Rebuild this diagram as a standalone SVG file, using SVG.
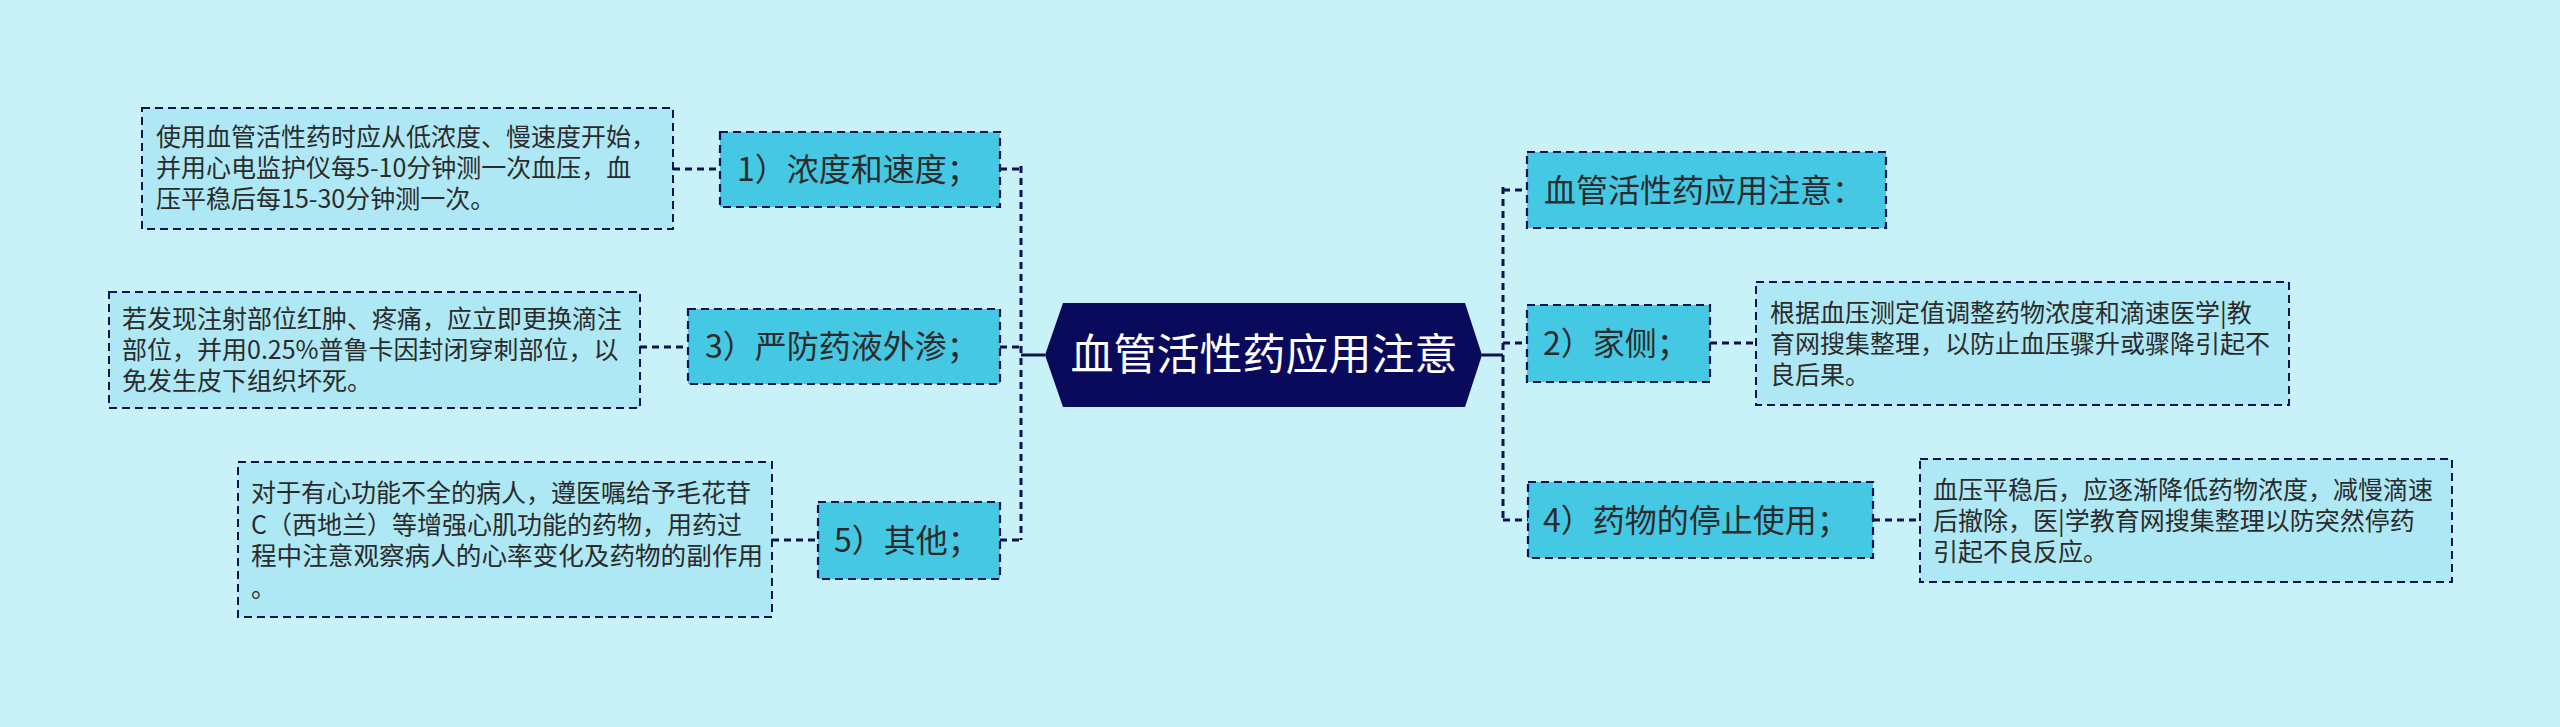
<svg xmlns="http://www.w3.org/2000/svg" width="2560" height="727" viewBox="0 0 2560 727">
<style>
.bg{fill:#c9f1f8}
.branch{fill:#45c8e3;stroke:#0e1250;stroke-width:2.2;stroke-dasharray:8 5}
.leaf{fill:#aee8f4;stroke:#0e1250;stroke-width:2;stroke-dasharray:8 5}
.bt{font-family:"Noto Sans CJK SC","Noto Sans",sans-serif;font-size:32px;fill:#2b2b2b}
.lt{font-family:"Noto Sans CJK SC","Noto Sans",sans-serif;font-size:25px;fill:#2b2b2b}
.ct{font-family:"Noto Sans CJK SC","Noto Sans",sans-serif;font-size:43px;fill:#ffffff}
.con{fill:none;stroke:#0e1250;stroke-width:3;stroke-dasharray:7 5}
.solid{fill:none;stroke:#0e1250;stroke-width:3}
</style>
<rect class="bg" x="0" y="0" width="2560" height="727"/>
<g id="connectors">
<path class="con" d="M1021 166 V540"/>
<path class="solid" d="M1045 355 H1021"/>
<path class="con" d="M1000 169 H1021"/>
<path class="con" d="M1000 347 H1021"/>
<path class="con" d="M1000 540 H1021"/>
<path class="con" d="M673 169 H720"/>
<path class="con" d="M640 347 H688"/>
<path class="con" d="M772 540 H818"/>
<path class="con" d="M1503 187 V523"/>
<path class="solid" d="M1482 355 H1503"/>
<path class="con" d="M1503 190 H1527"/>
<path class="con" d="M1503 343 H1527"/>
<path class="con" d="M1503 520 H1528"/>
<path class="con" d="M1710 343 H1756"/>
<path class="con" d="M1873 520 H1920"/>
</g>
<g id="center">
<polygon points="1045,355 1063,303 1465,303 1482,355 1465,407 1063,407" fill="#0a0a5c"/>
<text class="ct" x="1264" y="370" text-anchor="middle">血管活性药应用注意</text>
</g>
<g id="b1">
<rect class="branch" x="720" y="132" width="280" height="75"/>
<text class="bt" x="737" y="181">1）浓度和速度；</text>
</g>
<g id="b1-leaf">
<rect class="leaf" x="142" y="108" width="531" height="121"/>
<text class="lt"><tspan x="156" y="146">使用血管活性药时应从低浓度、慢速度开始，</tspan><tspan x="156" y="177">并用心电监护仪每5-10分钟测一次血压，血</tspan><tspan x="156" y="208">压平稳后每15-30分钟测一次。</tspan></text>
</g>
<g id="b3">
<rect class="branch" x="688" y="309" width="312" height="75"/>
<text class="bt" x="705" y="358">3）严防药液外渗；</text>
</g>
<g id="b3-leaf">
<rect class="leaf" x="109" y="292" width="531" height="116"/>
<text class="lt"><tspan x="122" y="328">若发现注射部位红肿、疼痛，应立即更换滴注</tspan><tspan x="122" y="359">部位，并用0.25%普鲁卡因封闭穿刺部位，以</tspan><tspan x="122" y="390">免发生皮下组织坏死。</tspan></text>
</g>
<g id="b5">
<rect class="branch" x="818" y="502" width="182" height="77"/>
<text class="bt" x="834" y="552">5）其他；</text>
</g>
<g id="b5-leaf">
<rect class="leaf" x="238" y="462" width="534" height="155"/>
<text class="lt"><tspan x="251" y="502">对于有心功能不全的病人，遵医嘱给予毛花苷</tspan><tspan x="251" y="534">C（西地兰）等增强心肌功能的药物，用药过</tspan><tspan x="251" y="565" textLength="512" lengthAdjust="spacingAndGlyphs">程中注意观察病人的心率变化及药物的副作用</tspan><tspan x="251" y="597">。</tspan></text>
</g>
<g id="r1">
<rect class="branch" x="1527" y="152" width="359" height="76"/>
<text class="bt" x="1544" y="202">血管活性药应用注意：</text>
</g>
<g id="r2">
<rect class="branch" x="1527" y="305" width="183" height="77"/>
<text class="bt" x="1543" y="355">2）家侧；</text>
</g>
<g id="r2-leaf">
<rect class="leaf" x="1756" y="282" width="533" height="123"/>
<text class="lt"><tspan x="1770" y="322">根据血压测定值调整药物浓度和滴速医学|教</tspan><tspan x="1770" y="353">育网搜集整理，以防止血压骤升或骤降引起不</tspan><tspan x="1770" y="384">良后果。</tspan></text>
</g>
<g id="r3">
<rect class="branch" x="1528" y="482" width="345" height="76"/>
<text class="bt" x="1543" y="532">4）药物的停止使用；</text>
</g>
<g id="r3-leaf">
<rect class="leaf" x="1920" y="459" width="532" height="123"/>
<text class="lt"><tspan x="1933" y="499">血压平稳后，应逐渐降低药物浓度，减慢滴速</tspan><tspan x="1933" y="530">后撤除，医|学教育网搜集整理以防突然停药</tspan><tspan x="1933" y="561">引起不良反应。</tspan></text>
</g>
</svg>
